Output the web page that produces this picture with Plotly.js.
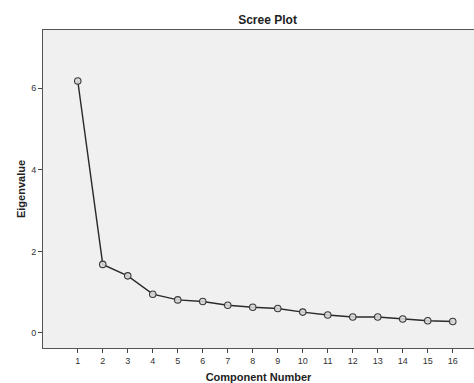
<!DOCTYPE html>
<html>
<head>
<meta charset="utf-8">
<script src="https://cdn.plot.ly/plotly-3.0.1.min.js"></script>
<style>html,body{margin:0;padding:0;background:#fff;}#chart{width:474px;height:383px;}</style>
</head>
<body>
<div id="chart"></div>
<script>
var componentNumbers = [1,2,3,4,5,6,7,8,9,10,11,12,13,14,15,16];
var eigenvalues = [6.18,1.68,1.40,0.95,0.81,0.77,0.68,0.63,0.60,0.51,0.44,0.39,0.39,0.34,0.30,0.28];
var yTickValues = [0,2,4,6];

var trace = {
  x: componentNumbers,
  y: eigenvalues,
  type: 'scatter',
  mode: 'lines+markers',
  line: {color: '#2a2a2a', width: 1.4},
  marker: {symbol: 'circle', size: 6.5, color: 'rgba(215,215,215,0.9)', line: {color: '#3a3a3a', width: 1.1}},
  hoverinfo: 'skip'
};

var layout = {
  width: 474, height: 383,
  margin: {l: 43, r: 0, t: 30, b: 35},
  paper_bgcolor: '#ffffff',
  plot_bgcolor: '#f0f0f0',
  showlegend: false,
  font: {family: 'Liberation Sans, Arial, sans-serif', color: '#222'},
  title: {text: '<b>Scree Plot</b>', x: 0.521, xref: 'paper', xanchor: 'center', y: 0.948, yanchor: 'middle', font: {size: 12, color: '#222'}},
  xaxis: {
    range: [-0.39, 16.85],
    tickvals: componentNumbers,
    ticktext: componentNumbers.map(String),
    ticks: 'outside', ticklen: 4, tickcolor: '#444', tickwidth: 1,
    showgrid: false, zeroline: false,
    showline: true, linecolor: '#555', linewidth: 1, mirror: true,
    tickfont: {size: 9, color: '#333'},
    title: {text: '<b>Component Number</b>', font: {size: 11, color: '#222'}, standoff: 12}
  },
  yaxis: {
    range: [-0.37, 7.43],
    tickvals: yTickValues,
    ticktext: yTickValues.map(String),
    ticks: 'outside', ticklen: 4, tickcolor: '#444', tickwidth: 1,
    showgrid: false, zeroline: false,
    showline: true, linecolor: '#555', linewidth: 1,
    tickfont: {size: 9, color: '#333'},
    title: {text: '<b>Eigenvalue</b>', font: {size: 11, color: '#222'}, standoff: 3}
  }
};

Plotly.newPlot('chart', [trace], layout, {staticPlot: true, displayModeBar: false});
</script>
</body>
</html>
